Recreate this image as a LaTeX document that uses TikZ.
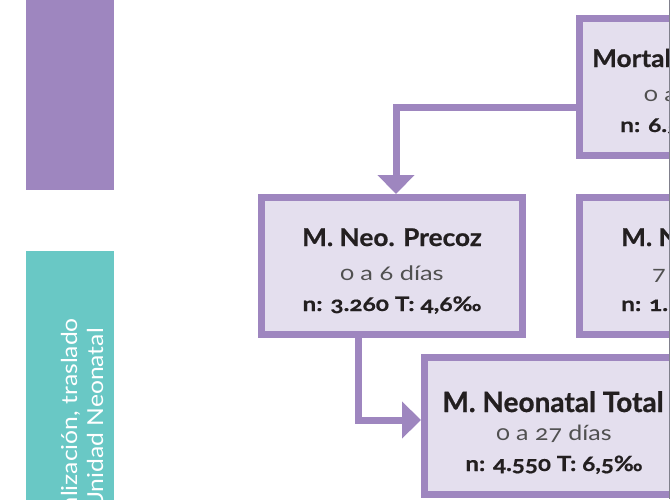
\documentclass[tikz,border=0pt]{standalone}
\usepackage{fontspec}
\setmainfont{Lato}[Numbers=OldStyle]
\usetikzlibrary{arrows.meta}

\definecolor{lila}{HTML}{9E86BF}
\definecolor{lilafill}{HTML}{E4DFEE}
\definecolor{turq}{HTML}{69C8C5}
\definecolor{ink}{HTML}{231F20}
\definecolor{soft}{HTML}{505050}
\definecolor{edge}{HTML}{80808C}

% font helpers: size, horizontal stretch, extra weight
\newcommand{\heavy}[3]{\bfseries\fontsize{#1}{#1}\selectfont\addfontfeatures{FakeStretch=#2,FakeBold=#3}}
\newcommand{\plainw}[2]{\fontsize{#1}{#1}\selectfont\addfontfeatures{FakeStretch=#2}}

\begin{document}
\begin{tikzpicture}[x=1pt,y=-1pt,
  stagebox/.style={draw=lila,fill=lilafill,line width=7pt,
    minimum width=261pt,minimum height=137pt,inner sep=0pt},
  flowlink/.style={draw=lila,line width=7pt,
    -{Triangle[length=19pt,width=36pt]}},
  boxttl/.style={font=\heavy{24.5}{1.07}{0.7},text=ink,inner sep=0pt},
  bigttl/.style={font=\heavy{28}{1.0}{0.7},text=ink,inner sep=0pt},
  agetxt/.style={font=\plainw{20}{1.27},text=soft,inner sep=0pt},
  bigagetxt/.style={font=\plainw{21}{1.19},text=soft,inner sep=0pt},
  stattxt/.style={font=\heavy{20}{1.22}{0.6},text=ink,inner sep=0pt},
  bigstattxt/.style={font=\heavy{21}{1.15}{0.6},text=ink,inner sep=0pt},
  vlabel/.style={rotate=90,anchor=base east,text=white,
    font=\plainw{22}{1.12},inner sep=0pt}]

\useasboundingbox (0,0) rectangle (670,499);
\clip (0,0) rectangle (670,499);

% side bands
\fill[lila] (26,0) rectangle (114,190);
\fill[turq] (26,251) rectangle (114,510);
\node[vlabel] (bandA) at (77,318) {Hospitalización, traslado};
\node[vlabel] (bandB) at (103,328) {Unidad Neonatal};

% stage boxes
\node[stagebox] (mort)   at (710,87)  {};
\node[stagebox] (precoz) at (392,266) {};
\node[stagebox] (tardia) at (710,266) {};
\node[stagebox] (total)  at (555,426) {};

% connectors
\coordinate (j1) at (396,107);
\coordinate (j2) at (358.5,420);
\draw[flowlink] (mort.west |- j1) -- (j1) -- (j1 |- precoz.north);
\draw[flowlink] (j2 |- precoz.south) -- (j2) -- (total.west |- j2);

% box texts
\node[boxttl,anchor=base west] (mortT) at (592,67)  {Mortalidad Infantil};
\node[agetxt,anchor=base west] (mortR) at (644,101) {0 a 11 meses};
\node[stattxt,anchor=base west] (mortS) at (620,132) {n: 6.540 T: 9,3‰};

\node[boxttl,anchor=base]  (precozT) at (392,246) {M. Neo. Precoz};
\node[agetxt,anchor=base]  (precozR) at (392,280) {0 a 6 días};
\node[stattxt,anchor=base] (precozS) at (392,311) {n: 3.260 T: 4,6‰};

\node[boxttl,anchor=base west]  (tardiaT) at (621,246) {M. Neo. Tardía};
\node[agetxt,anchor=base west]  (tardiaR) at (652,280) {7 a 27 días};
\node[stattxt,anchor=base west] (tardiaS) at (621,311) {n: 1.290 T: 1,9‰};

\node[bigttl,anchor=base]     (totalT) at (553,412) {M. Neonatal Total};
\node[bigagetxt,anchor=base]  (totalR) at (554,440) {0 a 27 días};
\node[bigstattxt,anchor=base] (totalS) at (554,471) {n: 4.550 T: 6,5‰};

% sheet edge
\draw[edge,line width=1pt] (669.5,0) -- (669.5,499);
\end{tikzpicture}
\end{document}
